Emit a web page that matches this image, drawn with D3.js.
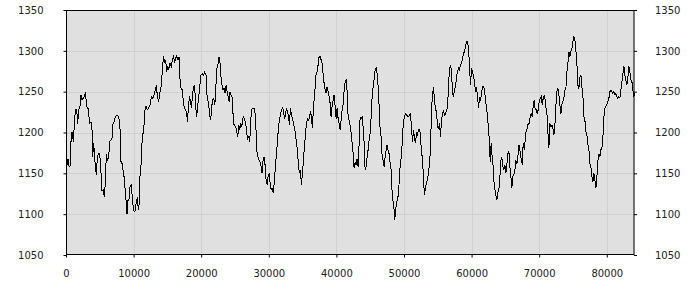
<!DOCTYPE html>
<html>
<head>
<meta charset="utf-8">
<script src="https://cdn.jsdelivr.net/npm/d3@7"></script>
<style>
  html, body { margin: 0; padding: 0; background: #fff; }
  svg { display: block; }
  .tick text { font-family: "DejaVu Sans", sans-serif; font-size: 10px; fill: #222; }
</style>
</head>
<body>
<div id="chart"></div>
<script>
// Tick values
const xTicks = [0, 10000, 20000, 30000, 40000, 50000, 60000, 70000, 80000];
const yTicks = [1050, 1100, 1150, 1200, 1250, 1300, 1350];
const xDomain = [0, 84100];
const yDomain = [1050, 1350];

// Series
const xs = [
  0,148,296,444,592,740,888,1085,1233,1381,1579,1727,1875,2072,2220,2368,2565,2713,2861,3059,
  3355,3453,3700,3848,3947,4094,4243,4341,4489,4637,4834,4982,5130,5328,5525,5673,5821,5969,6117,6314,
  6462,6660,6807,6955,7103,7301,7498,7646,7794,7893,8041,8139,8287,8435,8583,8731,8879,9027,9175,9323,
  9471,9669,9817,9965,10113,10261,10409,10557,10705,10853,10951,11099,11247,11395,11543,11691,11839,12037,12234,12432,
  12629,12826,13023,13220,13368,13516,13713,13862,14010,14158,14306,14454,14602,14750,14898,15046,15194,15391,15588,15736,
  15884,16082,16230,16378,16575,16723,
  16872,17020,17217,17365,17513,17711,17859,17957,18105,18253,18401,18549,18697,18845,18993,19141,19289,19437,19585,19733,
  19930,20128,20325,20523,20720,20818,20966,21114,21262,21410,21558,21706,21854,22002,22150,22249,22446,22594,22742,22890,
  23088,23236,23384,23532,23680,23828,23976,24124,24272,24420,24617,24765,24913,25111,25259,25407,25555,25703,25851,25999,
  26147,26295,26443,26591,26739,26887,27035,27183,27331,27479,27627,27825,27973,28121,28269,28417,28565,28713,28861,29009,
  29157,29305,29453,29601,29749,29897,30045,30193,30341,30489,30686,30834,30982,31130,31278,31426,31574,31722,31870,32018,
  32166,32314,32462,32610,32758,32906,33054,33202,33350,33498,33646,
  33744,33941,34089,34237,34385,34533,34681,34829,34977,35125,35273,35421,35569,35717,35865,36013,36161,36309,36457,36605,
  36753,36901,37000,37148,37296,37444,37592,37740,37888,38036,38184,38332,38480,38628,38776,38924,39072,39220,39368,39516,
  39664,39812,39960,40108,40256,40404,40552,40700,40848,40996,41144,41292,41440,41588,41736,41884,42032,42180,42328,42476,
  42624,42772,42920,43068,43216,43364,43512,43660,43808,43956,44104,44252,44400,44548,44696,44844,44992,45140,45288,45436,
  45584,45732,45880,46028,46176,46324,46472,46620,46768,46916,47064,47212,47360,47508,47656,47804,47952,48100,48248,48396,
  48544,48642,48790,48938,49086,49234,49382,49530,49678,49826,49974,50122,50270,50418,
  50616,50813,50961,51109,51257,51405,51553,51701,51849,51997,52145,52293,52441,52589,52737,52885,53033,53181,53329,53477,
  53625,53773,53921,54069,54217,54365,54513,54661,54809,54957,55105,55253,55401,55549,55697,55845,55993,56141,56289,56437,
  56585,56733,56881,57029,57177,57325,57473,57621,57769,57917,58065,58213,58361,58509,58657,58805,58953,59101,59249,59397,
  59545,59693,59841,59989,60137,60285,60433,60581,60729,60877,61025,61173,61321,61469,61617,61765,61913,62061,62209,62357,
  62505,62653,62751,62899,63047,63195,63343,63491,63639,63738,63886,64034,64182,64330,64478,64626,64774,64922,65070,65218,
  65366,65514,65662,65810,65958,66106,66254,66402,66550,66698,66846,66994,67142,67290,67438,
  67488,67636,67784,67932,68080,68228,68376,68524,68672,68820,68968,69116,69264,69412,69560,69708,69856,70004,70152,70300,
  70448,70596,70744,70892,71040,71188,71336,71435,71583,71731,71879,72027,72175,72323,72471,72619,72767,72915,73063,73211,
  73359,73507,73655,73803,73951,74099,74247,74395,74543,74691,74839,74987,75135,75283,75431,75579,75727,75875,76023,76171,
  76319,76467,76615,76763,76911,77059,77207,77355,77503,77651,77799,77947,78095,78243,78391,78539,78687,78835,78983,79131,
  79279,79427,79575,79723,79871,80019,80167,80315,80463,80611,80759,80907,81055,81203,81351,81499,81647,81795,81943,82091,
  82239,82387,82535,82683,82831,82979,83127,83275,83423,83571,83719,83867,84015,84113
];
const ys = [
  1170,1160,1168,1159,1158,1189,1201,1189,1209,1228,1228,1211,1228,1232,1246,1240,1242,1244,1249,1232,
  1228,1211,1213,1203,1170,1187,1170,1158,1148,1170,1174,1174,1158,1128,1130,1121,1140,1174,1166,1170,
  1189,1191,1193,1211,1213,1219,1221,1221,1219,1215,1199,1164,1162,1154,1146,1132,1117,1100,1117,1119,
  1134,1136,1119,1107,1103,1105,1117,1119,1105,1115,1148,1160,1187,1199,1209,1228,1232,1228,1230,1234,
  1244,1242,1246,1252,1258,1244,1238,1248,1252,1264,1283,1293,1285,1289,1274,1281,1277,1285,1281,1289,
  1293,1287,1291,1294,1289,1293,
  1264,1254,1252,1236,1230,1228,1223,1213,1230,1244,1240,1230,1244,1254,1258,1242,1219,1226,1242,1250,
  1270,1272,1270,1274,1270,1248,1240,1234,1221,1215,1232,1240,1242,1234,1246,1277,1281,1292,1291,1270,
  1258,1252,1254,1248,1258,1250,1244,1238,1250,1246,1242,1211,1209,1207,1201,1195,1209,1203,1211,1207,
  1217,1219,1215,1211,1199,1193,1195,1189,1215,1228,1230,1230,1223,1201,1174,1170,1166,1164,1158,1150,
  1166,1170,1160,1142,1136,1146,1150,1138,1130,1132,1126,1142,1158,1174,1187,1207,1215,1221,1228,1230,
  1228,1217,1221,1230,1226,1221,1209,1230,1221,1217,1211,
  1207,1199,1187,1179,1160,1150,1154,1136,1150,1166,1183,1197,1211,1217,1215,1217,1226,1219,1205,1232,
  1244,1260,1272,1274,1283,1293,1293,1289,1285,1272,1260,1252,1248,1256,1250,1244,1236,1219,1232,1240,
  1246,1232,1217,1230,1217,1211,1203,1215,1228,1234,1252,1262,1264,1250,1219,1215,1209,1199,1187,1174,
  1156,1164,1160,1168,1158,1187,1219,1217,1219,1207,1187,1154,1158,1170,1179,1191,1199,1219,1244,1256,
  1266,1277,1279,1272,1256,1232,1203,1195,1170,1166,1158,1170,1179,1185,1177,1174,1162,1154,1126,1115,
  1105,1093,1107,1115,1119,1132,1154,1164,1179,1203,1215,1221,1223,1221,
  1219,1221,1223,1205,1189,1203,1193,1187,1199,1197,1203,1204,1197,1174,1170,1142,1123,1134,1138,1142,
  1150,1162,1179,1228,1246,1256,1240,1228,1226,1207,1205,1211,1195,1215,1223,1228,1221,1223,1228,1230,
  1256,1279,1281,1277,1248,1244,1252,1256,1268,1274,1279,1277,1283,1285,1291,1297,1299,1305,1311,1311,
  1303,1281,1258,1279,1274,1270,1262,1250,1256,1244,1230,1242,1240,1248,1256,1256,1252,1240,1230,1219,
  1203,1189,1164,1187,1170,1158,1136,1128,1121,1117,1126,1130,1144,1166,1170,1158,1154,1160,1150,1160,
  1174,1177,1158,1146,1132,1146,1148,1154,1166,1162,1170,1185,1179,1170,1164,
  1160,1187,1179,1191,1203,1205,1211,1211,1219,1223,1219,1232,1240,1228,1228,1223,1228,1238,1242,1244,
  1234,1242,1246,1240,1228,1219,1193,1181,1211,1207,1209,1205,1197,1209,1232,1250,1254,1246,1234,1223,
  1234,1238,1242,1252,1254,1274,1285,1299,1293,1299,1303,1311,1318,1313,1301,1285,1258,1254,1268,1270,
  1256,1246,1219,1215,1201,1197,1185,1179,1162,1158,1146,1140,1150,1142,1132,1146,1166,1174,1170,1179,
  1181,1195,1219,1230,1232,1234,1238,1242,1250,1252,1250,1248,1250,1246,1248,1244,1242,1244,1242,1252,
  1262,1272,1281,1270,1264,1258,1268,1281,1274,1264,1262,1252,1244,1248
];

const width = 700, height = 300;
const margin = { top: 10, right: 65.5, bottom: 45, left: 66 };
const innerW = width - margin.left - margin.right;
const innerH = height - margin.top - margin.bottom;

const svg = d3.select('#chart')
    .append('svg')
    .attr('width', width)
    .attr('height', height);

const g = svg.append('g')
    .attr('transform', `translate(${margin.left}, ${margin.top})`);

const x = d3.scaleLinear().domain(xDomain).range([0, innerW]);
const y = d3.scaleLinear().domain(yDomain).range([innerH, 0]);

// фон области графика
g.append('rect')
    .attr('width', innerW)
    .attr('height', innerH)
    .attr('fill', '#e0e0e0');

// сетка
g.append('g')
    .selectAll('line')
    .data(xTicks.filter(d => d > xDomain[0]))
    .enter()
    .append('line')
    .attr('x1', d => Math.round(x(d)) + 0.5)
    .attr('x2', d => Math.round(x(d)) + 0.5)
    .attr('y1', 0)
    .attr('y2', innerH)
    .attr('stroke', '#d0d0d0')
    .attr('stroke-width', 1);

g.append('g')
    .selectAll('line')
    .data(yTicks.filter(d => d > yDomain[0] && d < yDomain[1]))
    .enter()
    .append('line')
    .attr('x1', 0)
    .attr('x2', innerW)
    .attr('y1', d => Math.round(y(d)) + 0.5)
    .attr('y2', d => Math.round(y(d)) + 0.5)
    .attr('stroke', '#d0d0d0')
    .attr('stroke-width', 1);

// линия
const points = xs.map((d, i) => ({ x: d, y: ys[i] }));
const line = d3.line()
    .x(d => x(d.x))
    .y(d => y(d.y));

g.append('path')
    .datum(points)
    .attr('d', line)
    .attr('fill', 'none')
    .attr('stroke', '#000')
    .attr('stroke-width', 1)
    .attr('shape-rendering', 'crispEdges');

// рамка
g.append('rect')
    .attr('x', 0.5)
    .attr('y', 0.5)
    .attr('width', innerW - 1)
    .attr('height', innerH - 1)
    .attr('fill', 'none')
    .attr('stroke', '#000')
    .attr('stroke-width', 1);

// оси
const fmt = d3.format('d');

g.append('g')
    .attr('transform', 'translate(0.5,0)')
    .call(d3.axisLeft(y).tickValues(yTicks).tickFormat(fmt).tickSize(3).tickPadding(20))
    .call(a => a.select('.domain').remove());

g.append('g')
    .attr('transform', `translate(${innerW - 0.5},0)`)
    .call(d3.axisRight(y).tickValues(yTicks).tickFormat(fmt).tickSize(3).tickPadding(18))
    .call(a => a.select('.domain').remove());

g.append('g')
    .attr('transform', `translate(0,${innerH - 0.5})`)
    .call(d3.axisBottom(x).tickValues(xTicks).tickFormat(fmt).tickSize(3).tickPadding(12))
    .call(a => a.select('.domain').remove());
</script>
</body>
</html>
